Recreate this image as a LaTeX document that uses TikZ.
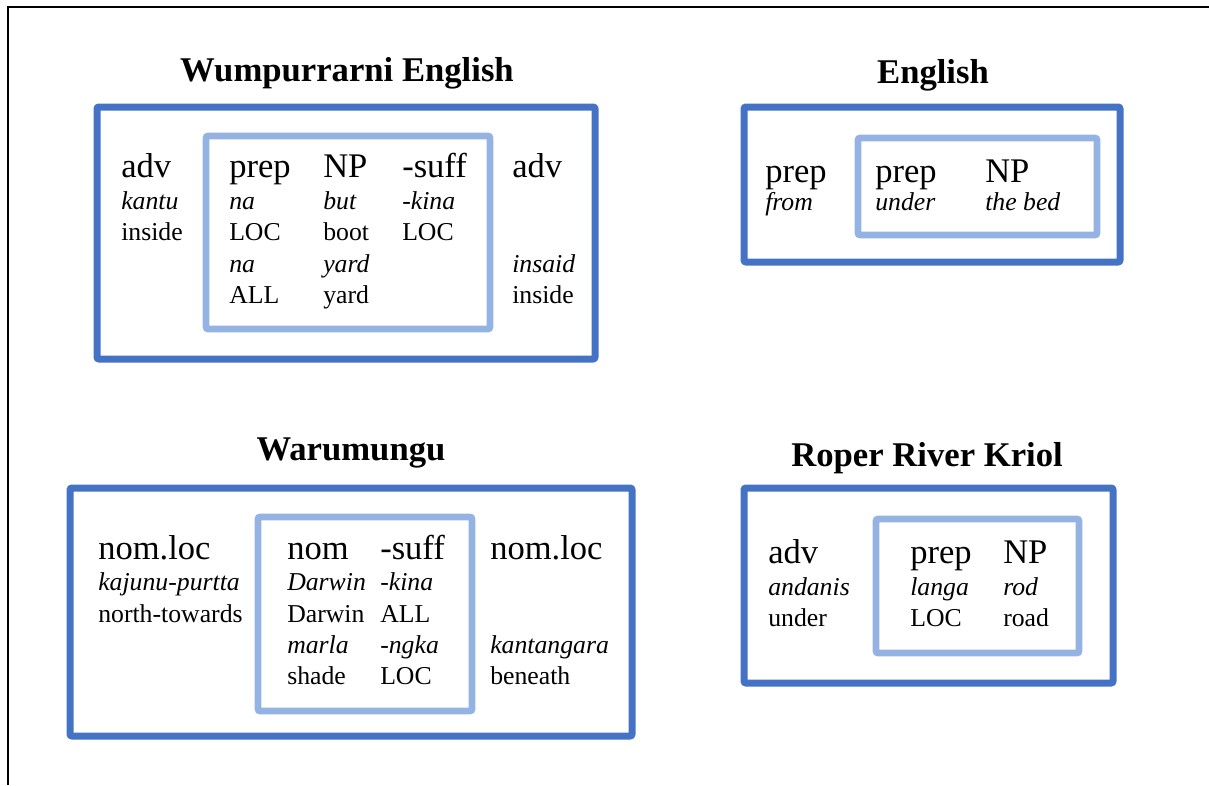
\documentclass[tikz,border=0pt]{standalone}
\usepackage{fontspec}
\setmainfont{Liberation Serif}
\definecolor{outerblue}{RGB}{68,114,196}
\definecolor{innerblue}{RGB}{149,179,226}
\tikzset{
	outerbox/.style={draw=outerblue, line width=5.25pt, rounded corners=1.5pt},
	innerbox/.style={draw=innerblue, line width=5pt, rounded corners=1.5pt},
	ttl/.style={anchor=base, inner sep=0pt, font=\fontsize{26}{30}\selectfont\bfseries},
	hd/.style={anchor=base west, inner sep=0pt, font=\fontsize{25.9}{30}\selectfont},
	ex/.style={anchor=base west, inner sep=0pt, font=\fontsize{19.3}{23}\selectfont\itshape},
	gl/.style={anchor=base west, inner sep=0pt, font=\fontsize{19.3}{23}\selectfont}
}
\begin{document}
\begin{tikzpicture}[x=0.75pt, y=-0.75pt]
	\useasboundingbox (0,0) rectangle (1209,785);
	\draw[line width=1.6pt] (8,785) -- (8,7) -- (1209,7);

	% Wumpurrarni English
	\node[ttl] (wTitle) at (347,81) {Wumpurrarni English};
	\draw[outerbox] (97,107) rectangle (595,359);
	\draw[innerbox] (206,136) rectangle (490,329);
	\foreach \x/\t [count=\i] in {121/adv,229/prep,323/NP,402/-suff,512/adv}{
		\node[hd] (wh\i) at (\x,177) {\t};
	}
	\foreach \x/\a/\b [count=\i] in {121/kantu/inside,229/na/LOC,323/but/boot,402/-kina/LOC}{
		\node[ex] (wa\i) at (\x,209) {\a};
		\node[gl] (wb\i) at (\x,240) {\b};
	}
	\foreach \x/\a/\b [count=\i] in {229/na/ALL,323/yard/yard,512/insaid/inside}{
		\node[ex] (wc\i) at (\x,272) {\a};
		\node[gl] (wd\i) at (\x,303) {\b};
	}

	% English
	\node[ttl] (eTitle) at (933,83) {English};
	\draw[outerbox] (744,107) rectangle (1120,262);
	\draw[innerbox] (858,138) rectangle (1097,235);
	\foreach \x/\t/\a [count=\i] in {765/prep/from,875/prep/under,985/NP/the bed}{
		\node[hd] (eh\i) at (\x,182) {\t};
		\node[ex] (ea\i) at (\x,210) {\a};
	}

	% Warumungu
	\node[ttl] (uTitle) at (351,460) {Warumungu};
	\draw[outerbox] (70,488) rectangle (632,736);
	\draw[innerbox] (258,517) rectangle (472,711);
	\foreach \x/\t [count=\i] in {98/nom.loc,287/nom,380/-suff,490/nom.loc}{
		\node[hd] (uh\i) at (\x,559) {\t};
	}
	\foreach \x/\a/\b [count=\i] in {98/kajunu-purtta/north-towards,287/Darwin/Darwin,380/-kina/ALL}{
		\node[ex] (ua\i) at (\x,590) {\a};
		\node[gl] (ub\i) at (\x,622) {\b};
	}
	\foreach \x/\a/\b [count=\i] in {287/marla/shade,380/-ngka/LOC,490/kantangara/beneath}{
		\node[ex] (uc\i) at (\x,653) {\a};
		\node[gl] (ud\i) at (\x,684) {\b};
	}

	% Roper River Kriol
	\node[ttl] (kTitle) at (927,466) {Roper River Kriol};
	\draw[outerbox] (744,488) rectangle (1113,683);
	\draw[innerbox] (876,519) rectangle (1079,653);
	\foreach \x/\t/\a/\b [count=\i] in {768/adv/andanis/under,910/prep/langa/LOC,1003/NP/rod/road}{
		\node[hd] (kh\i) at (\x,563) {\t};
		\node[ex] (ka\i) at (\x,595) {\a};
		\node[gl] (kb\i) at (\x,626) {\b};
	}
\end{tikzpicture}
\end{document}
